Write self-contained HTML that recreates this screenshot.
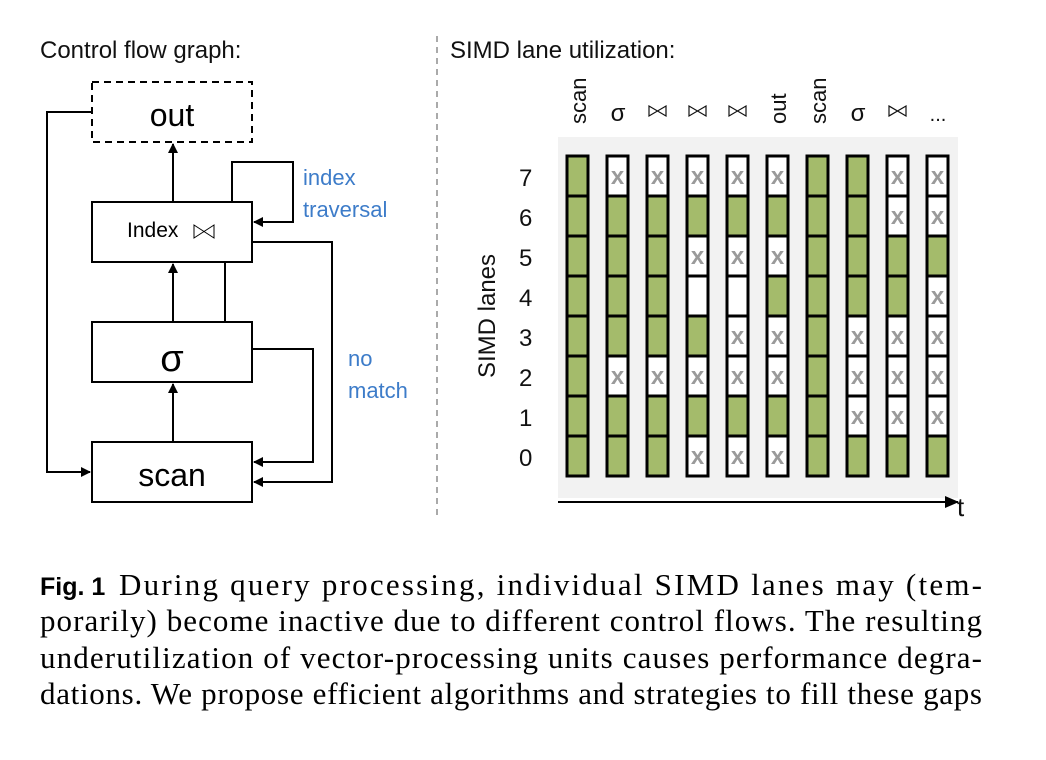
<!DOCTYPE html>
<html><head><meta charset="utf-8"><style>
html,body{margin:0;padding:0;background:#fff;}
svg{display:block;}
.s{font-family:"Liberation Sans","DejaVu Sans",sans-serif;}
.r{font-family:"Liberation Serif",serif;}
</style></head><body>
<svg width="1046" height="760" viewBox="0 0 1046 760" xmlns="http://www.w3.org/2000/svg">
<defs>
<marker id="a" markerWidth="10" markerHeight="10" refX="9" refY="5" orient="auto" markerUnits="userSpaceOnUse"><path d="M0,0 L10,5 L0,10 z" fill="#000"/></marker>
<marker id="b" markerWidth="14" markerHeight="12" refX="13" refY="6" orient="auto" markerUnits="userSpaceOnUse"><path d="M0,0 L14,6 L0,12 z" fill="#000"/></marker>
</defs>
<text x="40" y="58" class="s" font-size="24" fill="#111">Control flow graph:</text>
<text x="450" y="58" class="s" font-size="24" fill="#111">SIMD lane utilization:</text>
<line x1="437" y1="36" x2="437" y2="515" stroke="#aaa" stroke-width="2" stroke-dasharray="6,5"/>

<g stroke="#000" stroke-width="2" fill="none">
<rect x="92" y="82" width="160" height="60" stroke-dasharray="7,5"/>
<rect x="92" y="202" width="160" height="60" fill="#fff"/>
<rect x="92" y="322" width="160" height="60" fill="#fff"/>
<rect x="92" y="442" width="160" height="60" fill="#fff"/>
<line x1="173" y1="202" x2="173" y2="144" marker-end="url(#a)"/>
<line x1="173" y1="322" x2="173" y2="264" marker-end="url(#a)"/>
<line x1="173" y1="442" x2="173" y2="384" marker-end="url(#a)"/>
<line x1="225" y1="322" x2="225" y2="262"/>
<polyline points="92,112 47,112 47,472 90,472" marker-end="url(#a)"/>
<polyline points="232,202 232,162 293,162 293,222 254,222" marker-end="url(#a)"/>
<polyline points="252,242 332,242 332,482 254,482" marker-end="url(#a)"/>
<polyline points="252,349 313,349 313,462 254,462" marker-end="url(#a)"/>
<path d="M194,225 L194,238 L214,225 L214,238 Z" stroke-width="1"/>
</g>
<text x="172" y="126" class="s" font-size="32" text-anchor="middle">out</text>
<text x="127" y="237" class="s" font-size="21">Index</text>
<text x="172" y="371" class="s" font-size="38" text-anchor="middle">σ</text>
<text x="172" y="486" class="s" font-size="32" text-anchor="middle">scan</text>
<text x="303" y="185" class="s" font-size="22" fill="#3d7cc9">index</text>
<text x="303" y="217" class="s" font-size="22" fill="#3d7cc9">traversal</text>
<text x="348" y="366" class="s" font-size="22" fill="#3d7cc9">no</text>
<text x="348" y="398" class="s" font-size="22" fill="#3d7cc9">match</text>

<rect x="558" y="137" width="400" height="361" fill="#f2f2f2"/>
<g class="s" font-size="22" fill="#111">
<text transform="translate(586,124) rotate(-90)">scan</text>
<text x="618" y="121" text-anchor="middle" font-size="24">σ</text>
<text transform="translate(786,124) rotate(-90)">out</text>
<text transform="translate(826,124) rotate(-90)">scan</text>
<text x="858" y="121" text-anchor="middle" font-size="24">σ</text>
<text x="938" y="121" text-anchor="middle" font-size="20">...</text>
<text transform="translate(495,316) rotate(-90)" text-anchor="middle" font-size="24">SIMD lanes</text>
<text x="519" y="186" font-size="24">7</text>
<text x="519" y="226" font-size="24">6</text>
<text x="519" y="266" font-size="24">5</text>
<text x="519" y="306" font-size="24">4</text>
<text x="519" y="346" font-size="24">3</text>
<text x="519" y="386" font-size="24">2</text>
<text x="519" y="426" font-size="24">1</text>
<text x="519" y="466" font-size="24">0</text>
<text x="957" y="516" font-size="26">t</text>
</g>
<g stroke="#111" stroke-width="1.2" fill="none">
<path d="M649,106 L649,116 L666,106 L666,116 Z"/>
<path d="M689,106 L689,116 L706,106 L706,116 Z"/>
<path d="M729,106 L729,116 L746,106 L746,116 Z"/>
<path d="M889,106 L889,116 L906,106 L906,116 Z"/>
</g>
<line x1="558" y1="502" x2="958" y2="502" stroke="#000" stroke-width="2" marker-end="url(#b)"/>

<g stroke="#000" stroke-width="3" fill="#a4bb6b">
<rect x="567" y="156" width="21" height="320"/>
<rect x="607" y="156" width="21" height="320"/>
<rect x="647" y="156" width="21" height="320"/>
<rect x="687" y="156" width="21" height="320"/>
<rect x="727" y="156" width="21" height="320"/>
<rect x="767" y="156" width="21" height="320"/>
<rect x="807" y="156" width="21" height="320"/>
<rect x="847" y="156" width="21" height="320"/>
<rect x="887" y="156" width="21" height="320"/>
<rect x="927" y="156" width="21" height="320"/>
</g>
<g stroke="#000" stroke-width="3" fill="#fff">
<rect x="607" y="156" width="21" height="40"/><rect x="607" y="356" width="21" height="40"/>
<rect x="647" y="156" width="21" height="40"/><rect x="647" y="356" width="21" height="40"/>
<rect x="687" y="156" width="21" height="40"/><rect x="687" y="236" width="21" height="40"/><rect x="687" y="276" width="21" height="40"/><rect x="687" y="356" width="21" height="40"/><rect x="687" y="436" width="21" height="40"/>
<rect x="727" y="156" width="21" height="40"/><rect x="727" y="236" width="21" height="40"/><rect x="727" y="276" width="21" height="40"/><rect x="727" y="316" width="21" height="40"/><rect x="727" y="356" width="21" height="40"/><rect x="727" y="436" width="21" height="40"/>
<rect x="767" y="156" width="21" height="40"/><rect x="767" y="236" width="21" height="40"/><rect x="767" y="316" width="21" height="40"/><rect x="767" y="356" width="21" height="40"/><rect x="767" y="436" width="21" height="40"/>
<rect x="847" y="316" width="21" height="40"/><rect x="847" y="356" width="21" height="40"/><rect x="847" y="396" width="21" height="40"/>
<rect x="887" y="156" width="21" height="40"/><rect x="887" y="196" width="21" height="40"/><rect x="887" y="316" width="21" height="40"/><rect x="887" y="356" width="21" height="40"/><rect x="887" y="396" width="21" height="40"/>
<rect x="927" y="156" width="21" height="40"/><rect x="927" y="196" width="21" height="40"/><rect x="927" y="276" width="21" height="40"/><rect x="927" y="316" width="21" height="40"/><rect x="927" y="356" width="21" height="40"/><rect x="927" y="396" width="21" height="40"/>
</g>
<g stroke="#000" stroke-width="3" stroke-dasharray="21,19">
<line x1="567" y1="196" x2="948" y2="196"/><line x1="567" y1="236" x2="948" y2="236"/>
<line x1="567" y1="276" x2="948" y2="276"/><line x1="567" y1="316" x2="948" y2="316"/>
<line x1="567" y1="356" x2="948" y2="356"/><line x1="567" y1="396" x2="948" y2="396"/>
<line x1="567" y1="436" x2="948" y2="436"/>
</g>
<g class="s" font-size="24" font-weight="bold" fill="#9a9a9a" text-anchor="middle">
<text x="617.5" y="184">x</text><text x="617.5" y="384">x</text>
<text x="657.5" y="184">x</text><text x="657.5" y="384">x</text>
<text x="697.5" y="184">x</text><text x="697.5" y="264">x</text><text x="697.5" y="384">x</text><text x="697.5" y="464">x</text>
<text x="737.5" y="184">x</text><text x="737.5" y="264">x</text><text x="737.5" y="344">x</text><text x="737.5" y="384">x</text><text x="737.5" y="464">x</text>
<text x="777.5" y="184">x</text><text x="777.5" y="264">x</text><text x="777.5" y="344">x</text><text x="777.5" y="384">x</text><text x="777.5" y="464">x</text>
<text x="857.5" y="344">x</text><text x="857.5" y="384">x</text><text x="857.5" y="424">x</text>
<text x="897.5" y="184">x</text><text x="897.5" y="224">x</text><text x="897.5" y="344">x</text><text x="897.5" y="384">x</text><text x="897.5" y="424">x</text>
<text x="937.5" y="184">x</text><text x="937.5" y="224">x</text><text x="937.5" y="304">x</text><text x="937.5" y="344">x</text><text x="937.5" y="384">x</text><text x="937.5" y="424">x</text>
</g>

<g class="r" font-size="31" fill="#000">
<text x="40" y="595" class="s" font-weight="bold" font-size="25">Fig. 1</text>
<text x="119" y="595" textLength="863" lengthAdjust="spacing">During query processing, individual SIMD lanes may (tem-</text>
<text x="40" y="631" textLength="942" lengthAdjust="spacing">porarily) become inactive due to different control flows. The resulting</text>
<text x="40" y="668" textLength="942" lengthAdjust="spacing">underutilization of vector-processing units causes performance degra-</text>
<text x="40" y="704" textLength="942" lengthAdjust="spacing">dations. We propose efficient algorithms and strategies to fill these gaps</text>
</g>
</svg>
</body></html>
